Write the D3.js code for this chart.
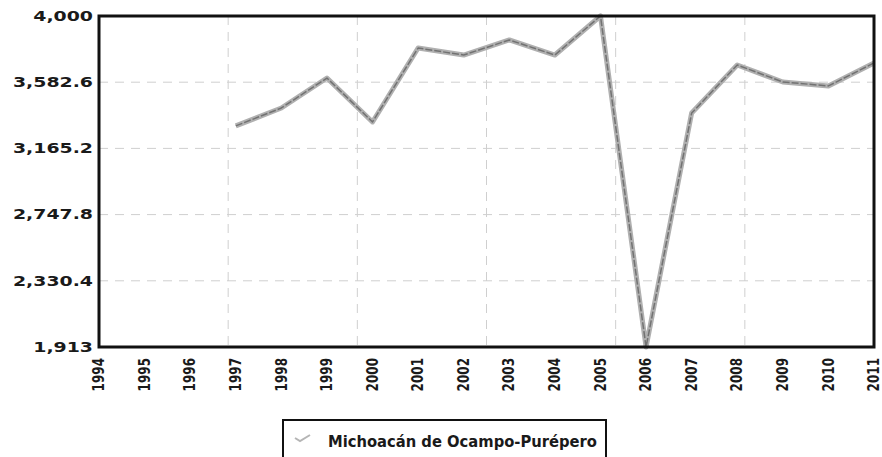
<!DOCTYPE html>
<html>
<head>
<meta charset="utf-8">
<script src="https://cdn.jsdelivr.net/npm/d3@7"></script>
<style>
  body { margin: 0; background: #fff; }
  svg { display: block; }
</style>
</head>
<body>
<svg width="882" height="457"></svg>
<script>
// data
var years = [1997, 1998, 1999, 2000, 2001, 2002, 2003, 2004, 2005, 2006, 2007, 2008, 2009, 2010, 2011];
var values = [3307, 3420, 3609, 3332, 3798, 3754, 3849, 3754, 4000, 1913, 3388, 3691, 3584, 3559, 3704];
var yearTicks = d3.range(1994, 2012);
var yTickValues = [1913, 2330.4, 2747.8, 3165.2, 3582.6, 4000];
var yTickLabels = ["1,913", "2,330.4", "2,747.8", "3,165.2", "3,582.6", "4,000"];
var seriesName = "Michoacán de Ocampo-Purépero";

var svg = d3.select("svg"),
    margin = {top: 16, right: 8, bottom: 110, left: 99},
    width = 882 - margin.left - margin.right,
    height = 457 - margin.top - margin.bottom;

var x = d3.scaleLinear().domain([1994, 2011]).range([0, width]);
var y = d3.scaleLinear().domain([1913, 4000]).range([height, 0]);

var g = svg.append("g")
    .attr("transform", "translate(" + margin.left + "," + margin.top + ")");

// grid: horizontal on ticks, vertical in 6 equal steps
g.append("g")
    .selectAll("line")
    .data(yTickValues)
    .enter().append("line")
    .attr("x1", 0).attr("x2", width)
    .attr("y1", function(d) { return y(d); })
    .attr("y2", function(d) { return y(d); })
    .attr("stroke", "#cfcfcf")
    .attr("stroke-dasharray", "9,7");

g.append("g")
    .selectAll("line")
    .data(d3.range(1, 6))
    .enter().append("line")
    .attr("x1", function(d) { return width * d / 6; })
    .attr("x2", function(d) { return width * d / 6; })
    .attr("y1", 0).attr("y2", height)
    .attr("stroke", "#cfcfcf")
    .attr("stroke-dasharray", "9,7");

// series line
var line = d3.line()
    .x(function(d, i) { return x(years[i]); })
    .y(function(d) { return y(d); });

g.append("path")
    .datum(values)
    .attr("fill", "none")
    .attr("stroke", "#b0b0b0")
    .attr("stroke-width", 5)
    .attr("stroke-linejoin", "round")
    .attr("d", line);

g.append("path")
    .datum(values)
    .attr("fill", "none")
    .attr("stroke", "#5e5e5e")
    .attr("stroke-width", 1.5)
    .attr("stroke-opacity", 0.75)
    .attr("stroke-dasharray", "7,2")
    .attr("stroke-linejoin", "round")
    .attr("d", line);

// frame
g.append("rect")
    .attr("width", width)
    .attr("height", height)
    .attr("fill", "none")
    .attr("stroke", "#111")
    .attr("stroke-width", 3);

// y labels (stretched sideways like the scan)
g.append("g")
    .selectAll("text")
    .data(yTickValues)
    .enter().append("text")
    .attr("transform", function(d) { return "translate(-6," + y(d) + ") scale(1.4,1)"; })
    .attr("dy", "0.36em")
    .attr("text-anchor", "end")
    .style("font-family", "DejaVu Sans")
    .style("font-weight", "bold")
    .style("font-size", "13.5px")
    .attr("fill", "#1a1a1a")
    .text(function(d, i) { return yTickLabels[i]; });

// x labels, rotated
g.append("g")
    .selectAll("text")
    .data(yearTicks)
    .enter().append("text")
    .attr("transform", function(d) { return "translate(" + x(d) + "," + (height + 11) + ") scale(1.3,1) rotate(-90)"; })
    .attr("dy", "0.33em")
    .attr("text-anchor", "end")
    .style("font-family", "DejaVu Sans")
    .style("font-weight", "bold")
    .style("font-size", "12px")
    .attr("fill", "#1a1a1a")
    .text(function(d) { return d; });

// legend
var lg = svg.append("g").attr("transform", "translate(283,420)");
lg.append("rect")
    .attr("width", 323)
    .attr("height", 42)
    .attr("fill", "#fff")
    .attr("stroke", "#111")
    .attr("stroke-width", 2);
lg.append("path")
    .attr("d", "M12,18 L17,21 L27,15")
    .attr("fill", "none")
    .attr("stroke", "#b5b5b5")
    .attr("stroke-width", 2);
lg.append("text")
    .attr("x", 45)
    .attr("y", 27)
    .style("font-family", "DejaVu Sans")
    .style("font-weight", "bold")
    .style("font-size", "16px")
    .attr("fill", "#1a1a1a")
    .attr("textLength", 269)
    .attr("lengthAdjust", "spacingAndGlyphs")
    .text(seriesName);
</script>
</body>
</html>
